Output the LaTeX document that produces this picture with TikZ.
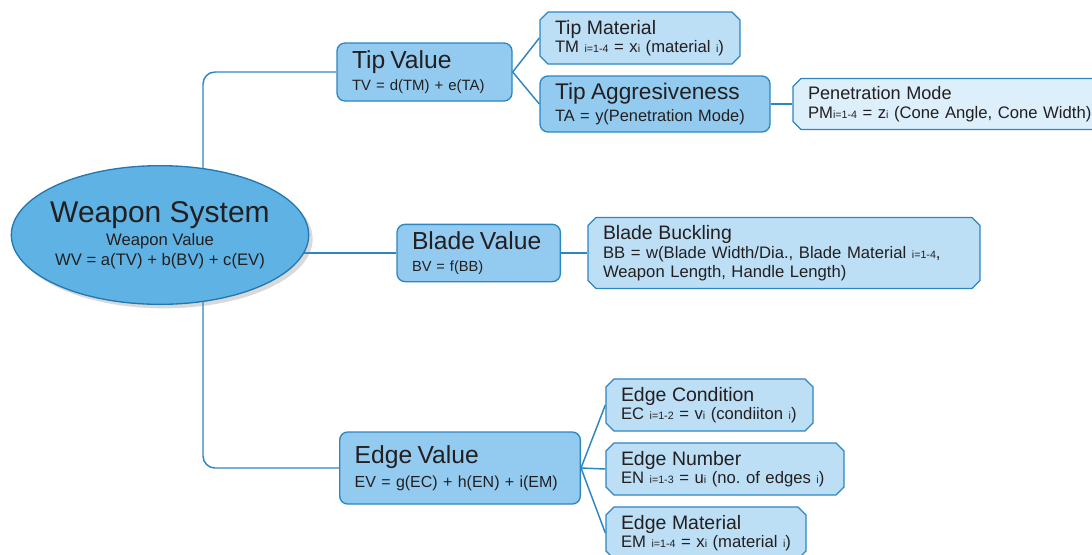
\documentclass[tikz,border=0pt]{standalone}
\usepackage{fontspec}
\setmainfont{Liberation Sans}
\usetikzlibrary{shapes.geometric,shapes.misc,shadows,backgrounds}
\frenchspacing

\definecolor{inkgrey}{HTML}{231F20}
\definecolor{wsblue}{HTML}{5EB3E4}
\definecolor{wsline}{HTML}{2378B4}
\definecolor{valblue}{HTML}{92CBEF}
\definecolor{leafblue}{HTML}{BCDFF6}
\definecolor{paleblue}{HTML}{DCEFFB}
\definecolor{edgeblue}{HTML}{2D86C2}

\newcommand{\subidx}[1]{{\fontsize{8}{8}\selectfont #1}}
\newcommand{\bigtitle}{\fontsize{18.5}{18.5}\selectfont}
\newcommand{\leaftitle}{\fontsize{14.6}{14.6}\selectfont}

\begin{document}
\begin{tikzpicture}[
x=0.75pt, y=-0.75pt,
wsnode/.style={ellipse, draw=wsline, fill=wsblue, line width=1pt, minimum width=223pt, minimum height=104pt, inner xsep=-4pt, inner ysep=0pt, align=center, text=inkgrey, font=\fontsize{12.5}{15}\selectfont, drop shadow={shadow xshift=3pt, shadow yshift=-3pt, opacity=0.3}},
valnode/.style={rectangle, rounded corners=6pt, draw=edgeblue, fill=valblue, line width=1pt, align=left, inner xsep=11.25pt, inner ysep=0pt, text=inkgrey},
leafnode/.style={chamfered rectangle, chamfered rectangle sep=3pt, draw=edgeblue, fill=leafblue, line width=1pt, align=left, inner xsep=8.25pt, inner ysep=0pt, text=inkgrey, font=\fontsize{12.5}{13.75}\selectfont, minimum height=39pt},
link/.style={draw=edgeblue, line width=1.1pt},
]
\useasboundingbox (0,0) rectangle (1092,554);
%Nodes
\node[wsnode] (ws) at (160,235) {{\fontsize{22.5}{22.5}\selectfont Weapon System}\\[2pt]Weapon Value\\WV = a(TV) + b(BV) + c(EV)};

\node[valnode, text width=108.75pt, minimum height=43.5pt, font=\fontsize{11.2}{16.5}\selectfont] (tv) at (424.5,72) {{\bigtitle Tip Value}\\TV = d(TM) + e(TA)};
\node[leafnode, text width=127.5pt] (tm) at (640,38) {{\leaftitle Tip Material}\\TM \subidx{i=1-4} = x\subidx{i} (material \subidx{i})};
\node[valnode, text width=150pt, minimum height=42pt, font=\fontsize{12.3}{16.5}\selectfont] (ta) at (655,104) {{\fontsize{17}{17}\selectfont Tip Aggresiveness}\\TA = y(Penetration Mode)};
\node[leafnode, fill=paleblue, text width=222pt, minimum height=38.25pt] (pm) at (956,104) {{\fontsize{13.6}{13.6}\selectfont Penetration Mode}\\PM\subidx{i=1-4} = z\subidx{i} (Cone Angle, Cone Width)};

\node[valnode, text width=100pt, minimum height=43pt, font=\fontsize{11}{16.5}\selectfont] (bv) at (478.7,253) {{\bigtitle Blade Value}\\BV = f(BB)};
\node[leafnode, text width=271.5pt, minimum height=53.25pt, font=\fontsize{12.5}{14.25}\selectfont] (bb) at (784,253) {{\leaftitle Blade Buckling}\\BB = w(Blade Width/Dia., Blade Material \subidx{i=1-4},\\Weapon Length, Handle Length)};

\node[valnode, text width=158pt, minimum height=54pt, font=\fontsize{12}{18}\selectfont] (ev) at (460,468) {{\bigtitle Edge Value}\\EV = g(EC) + h(EN) + i(EM)};
\node[leafnode, text width=132.75pt] (ec) at (709.5,405) {{\leaftitle Edge Condition}\\EC \subidx{i=1-2} = v\subidx{i} (condiiton \subidx{i})};
\node[leafnode, text width=156pt] (en) at (725,469) {{\leaftitle Edge Number}\\EN \subidx{i=1-3} = u\subidx{i} (no. of edges \subidx{i})};
\node[leafnode, text width=127.5pt] (em) at (706,533) {{\leaftitle Edge Material}\\EM \subidx{i=1-4} = x\subidx{i} (material \subidx{i})};

%Lines
\begin{scope}[on background layer]
\coordinate (trunk) at (203,235);
\path[link, rounded corners=9pt] (trunk) |- (tv.west);
\path[link, rounded corners=9pt] (trunk) |- (ev.west);
\path[link] (bv.west) -- (bv.west -| ws.center);
\path[link] (tv.east) edge (tm.west) (tv.east) edge (ta.west);
\path[link] (ta.east) edge (pm.west);
\path[link] (bv.east) edge (bb.west);
\path[link] (ev.east) edge (ec.west) (ev.east) edge (en.west) (ev.east) edge (em.west);
\end{scope}
\end{tikzpicture}
\end{document}
